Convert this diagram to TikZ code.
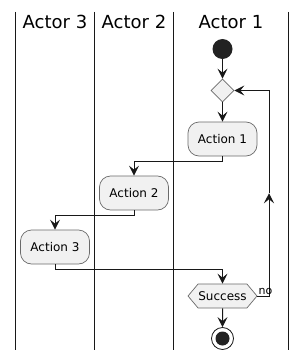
\documentclass[tikz,border=0pt]{standalone}
\usepackage{fontspec}
\setmainfont{DejaVu Sans}
\usetikzlibrary{arrows.meta,positioning,calc,shapes.geometric,shapes.symbols}
\definecolor{fline}{HTML}{181818}
\definecolor{ffill}{HTML}{F1F1F1}
\definecolor{fborder}{HTML}{6A6A6A}
\definecolor{fdot}{HTML}{222222}
\tikzset{
  action/.style  = {draw=fborder, fill=ffill, rounded corners=11pt, line width=0.7pt,
                    minimum width=69pt, minimum height=34pt, inner sep=0pt,
                    font=\fontsize{12}{14}\selectfont},
  choice/.style  = {draw=fborder, fill=ffill, diamond, line width=0.7pt,
                    minimum width=23pt, minimum height=23pt, inner sep=0pt},
  test/.style    = {draw=fborder, fill=ffill, signal, signal to=west and east,
                    signal pointer angle=100, line width=0.7pt,
                    minimum width=69pt, minimum height=24pt, inner sep=0pt,
                    font=\fontsize{12}{14}\selectfont},
  startdot/.style= {circle, fill=fdot, minimum size=20pt, inner sep=0pt},
  stopdot/.style = {circle, draw=fline, fill=white, line width=0.8pt,
                    minimum size=22pt, inner sep=0pt,
                    path picture={\fill[fdot] (path picture bounding box.center) circle (7pt);}},
  lane/.style    = {line width=1.8pt, fline},
  title/.style   = {font=\fontsize{18}{20}\selectfont},
  flow/.style    = {-{Stealth[length=10pt,width=10pt,inset=4pt]}, line width=1pt, fline},
}
\begin{document}
\begin{tikzpicture}[x=1pt,y=-1pt]
\useasboundingbox (0,0) rectangle (307,361);
% swimlanes
\foreach \x in {15.5,94.5,173.5,288.5}{
  \draw[lane] (\x,12) -- (\x,350);}
\node[title] (t3) at (55,22) {Actor 3};
\node[title] (t2) at (134,22) {Actor 2};
\node[title] (t1) at (231,22) {Actor 1};
% nodes
\node[startdot] (start) at (222.5,49) {};
\node[choice] (dec) at (222.5,90.5) {};
\node[action] (a1) at (222.5,139) {Action 1};
\node[action] (a2) at (134,193) {Action 2};
\node[action] (a3) at (55,247) {Action 3};
\node[test] (succ) at (222.5,296) {Success};
\node[stopdot] (stop) at (222.5,338.5) {};
% flow
\draw[flow] (start) -- (dec);
\draw[flow] (dec) -- (a1);
\draw[flow] (a1.south) -- ++(0,5) -| (a2.north);
\draw[flow] (a2.south) -- ++(0,5) -| (a3.north);
\draw[flow] (a3.south) -- ++(0,5) -| (succ.north);
\draw[flow] (succ) -- (stop);
% loop back
\coordinate (loopB) at (269,296);
\coordinate (loopT) at (269,90.5);
\coordinate (loopM) at ($(loopB)!0.5!(loopT)$);
\draw[flow] (succ.east) -- (loopB) -- (loopM);
\draw[flow] (loopM) -- (loopT) -- (dec.east);
\node[font=\fontsize{11}{12}\selectfont, anchor=south west, inner sep=1pt] (no) at (succ.east) {no};
\end{tikzpicture}
\end{document}
